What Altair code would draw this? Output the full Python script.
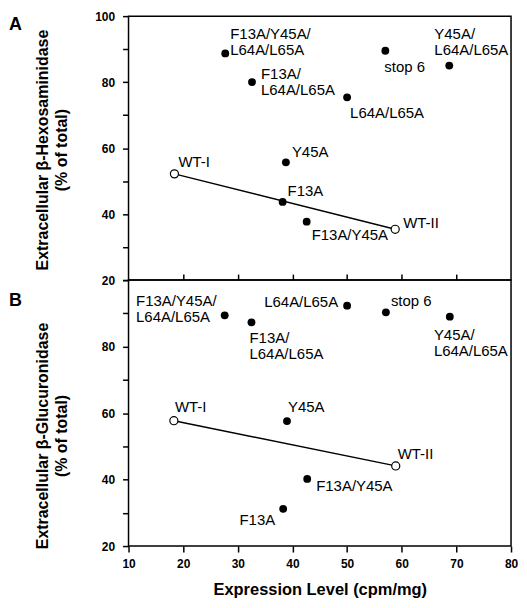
import altair as alt
import pandas as pd

# ---- data ----
mutants = ["F13A/Y45A/L64A/L65A", "F13A/L64A/L65A", "L64A/L65A", "stop 6",
           "Y45A/L64A/L65A", "Y45A", "F13A", "F13A/Y45A", "WT-I", "WT-II"]
label_text = ["F13A/Y45A/\nL64A/L65A", "F13A/\nL64A/L65A", "L64A/L65A", "stop 6",
              "Y45A/\nL64A/L65A", "Y45A", "F13A", "F13A/Y45A", "WT-I", "WT-II"]
kind = ["mutant"] * 8 + ["wild type", "wild type"]

# Panel A: beta-hexosaminidase
expr_a = [27.7, 32.6, 50.0, 57.0, 68.7, 38.8, 38.2, 42.6, 18.4, 58.8]
hex_a = [88.7, 80.0, 75.4, 89.5, 85.0, 55.7, 43.7, 37.7, 52.2, 35.4]

# Panel B: beta-glucuronidase
expr_b = [27.6, 32.5, 50.0, 57.1, 68.8, 39.0, 38.3, 42.7, 18.3, 58.9]
gus_b = [89.4, 87.3, 92.3, 90.3, 89.0, 57.6, 31.2, 40.2, 57.7, 44.1]

x_ticks = [10, 20, 30, 40, 50, 60, 70, 80]
y_ticks = [20, 30, 40, 50, 60, 70, 80, 90, 100]

# label placement (dx, dy of first line, align) per point, per panel
place_a = [(5, -19, "left"), (9, -8, "left"), (3, 16, "left"), (-1, 16, "left"),
           (-15, -32, "left"), (6, -10, "left"), (5, -11, "left"), (5, 13, "left"),
           (4, -12, "left"), (8, -6, "left")]
place_b = [(-89, -14, "left"), (-2, 16, "left"), (-9, -4, "right"), (5, -11, "left"),
           (-16, 18, "left"), (1, -14, "left"), (-8, 11, "right"), (9, 7, "left"),
           (1, -14, "left"), (2, -12, "left")]

FONT = "Liberation Sans"


def panel(xs, ys, place, letter, ytitle, top):
    df = pd.DataFrame({"mutant": mutants, "label": label_text, "kind": kind,
                       "x": xs, "y": ys, "i": list(range(len(mutants)))})
    if top:
        xaxis = alt.Axis(values=x_ticks[1:-1], labels=False, title=None, domain=False,
                         ticks=True, tickSize=6, offset=-6, grid=False)
        ylabel = "datum.value % 20 == 0 ? datum.label : ''"
        ty = 134
    else:
        xaxis = alt.Axis(values=x_ticks, title="Expression Level (cpm/mg)", domain=False,
                         tickSize=6, labelPadding=7, titlePadding=12, grid=False,
                         labelFlush=False)
        ylabel = "datum.value % 20 == 0 && datum.value < 100 ? datum.label : ''"
        ty = 156
    yaxis = alt.Axis(values=y_ticks, labelExpr=ylabel, title=ytitle, domain=False,
                     tickSize=6, labelPadding=8, grid=False, titleX=-78, titleY=ty,
                     titleLineHeight=19)
    xe = alt.X("x:Q", scale=alt.Scale(domain=[10, 80], nice=False, zero=False), axis=xaxis)
    ye = alt.Y("y:Q", scale=alt.Scale(domain=[20, 100], nice=False, zero=False), axis=yaxis)

    base = alt.Chart(df)
    line = base.transform_filter("datum.kind == 'wild type'").mark_line(
        color="black", strokeWidth=1.4).encode(x=xe, y=ye, order="x:Q")
    filled = base.transform_filter("datum.kind == 'mutant'").mark_point(
        filled=True, color="black", size=62, opacity=1).encode(x=xe, y=ye)
    opened = base.transform_filter("datum.kind == 'wild type'").mark_point(
        filled=False, fill="white", stroke="black", strokeWidth=1.2, size=66,
        opacity=1, fillOpacity=1).encode(x=xe, y=ye)
    layers = [line, filled, opened]
    for i, (dx, dy, al) in enumerate(place):
        layers.append(
            base.transform_filter(f"datum.i == {i}").mark_text(
                dx=dx, dy=dy, align=al, baseline="middle", font=FONT, fontSize=15,
                lineBreak="\n", lineHeight=16, color="black"
            ).encode(x=xe, y=ye, text="label:N")
        )
    lt = alt.Chart(pd.DataFrame({"t": [letter]})).mark_text(
        align="left", baseline="middle", font=FONT, fontSize=18, fontWeight="bold",
        color="black").encode(x=alt.value(-120), y=alt.value(9 if top else 21), text="t:N")
    layers.append(lt)
    h = 265 if top else 267
    return alt.layer(*layers).properties(width=384, height=h)


top = panel(expr_a, hex_a, place_a, "A",
            ["Extracellular β-Hexosaminidase", "(% of total)"], True)
bottom = panel(expr_b, gus_b, place_b, "B",
               ["Extracellular β-Glucuronidase", "(% of total)"], False)

chart = alt.vconcat(top, bottom, spacing=0, bounds="flush").configure_view(
    stroke="black", strokeWidth=1.5
).configure_axis(
    labelFont=FONT, labelFontSize=12, labelFontWeight="bold", labelColor="black",
    titleFont=FONT, titleFontSize=16, titleFontWeight="bold", titleColor="black",
    tickColor="black", tickWidth=1.5
).configure_axisX(titleFontSize=16.5).properties(
    padding={"left": 0, "top": 0, "right": 0, "bottom": 0}, background="white"
)

chart.save("out.html", embed_options={"renderer": "svg", "actions": False})
